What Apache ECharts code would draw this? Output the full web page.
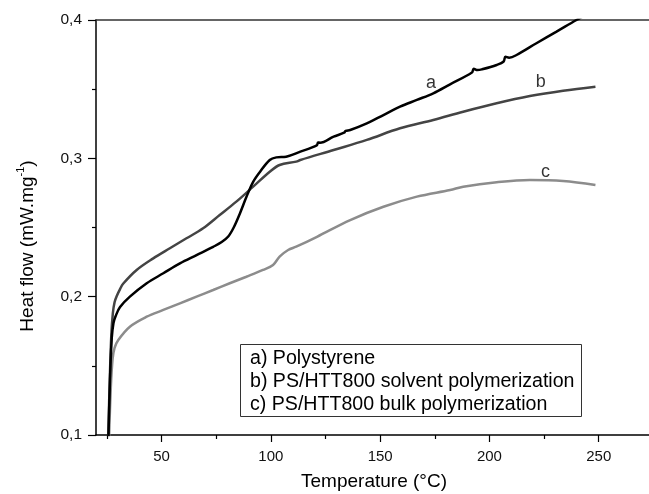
<!DOCTYPE html>
<html>
<head>
<meta charset="utf-8">
<script src="https://cdn.jsdelivr.net/npm/echarts@6/dist/echarts.min.js"></script>
<style>
  html, body { margin: 0; padding: 0; background: #fff; }
  #chart { width: 649px; height: 494px; }
</style>
</head>
<body>
<div id="chart"></div>
<script>
// ---- data ----
const seriesNames = ['a', 'b', 'c'];
const legendLabels = [
  'a) Polystyrene',
  'b) PS/HTT800 solvent polymerization',
  'c) PS/HTT800 bulk polymerization'
];

const tempA = [25.7, 26.4, 27.2, 28.0, 29.0, 31.0, 35.5, 43.2, 50.8, 58.4, 66.0, 73.6, 77.5, 80.5, 83.0, 85.8, 88.8, 91.9, 94.9, 99.5, 102.5, 107.0, 113.5, 121.0, 121.6, 122.5, 128.7, 133.5, 134.2, 136.3, 143.9, 151.5, 159.1, 166.8, 174.3, 182.0, 192.0, 192.8, 194.5, 196.5, 203.3, 206.5, 207.3, 209.0, 212.4, 221.5, 230.7, 239.8, 245.0];
const flowA = [0.099, 0.140, 0.170, 0.181, 0.186, 0.1925, 0.200, 0.2097, 0.2169, 0.224, 0.230, 0.236, 0.2395, 0.2435, 0.2500, 0.260, 0.272, 0.283, 0.290, 0.2988, 0.3007, 0.3012, 0.3048, 0.3093, 0.3115, 0.3113, 0.3157, 0.3185, 0.3198, 0.3205, 0.3253, 0.3313, 0.3373, 0.3422, 0.347, 0.3535, 0.3620, 0.3648, 0.3638, 0.3643, 0.3675, 0.3700, 0.3735, 0.3728, 0.3747, 0.3832, 0.3916, 0.4000, 0.4045];

const tempB = [25.6, 26.3, 27.0, 27.7, 28.5, 29.5, 31.0, 32.5, 38.6, 46.2, 53.8, 61.4, 69.0, 76.6, 84.2, 91.9, 99.5, 104.0, 111.6, 113.5, 128.7, 143.9, 159.1, 174.3, 188.0, 203.3, 218.5, 233.7, 248.5];
const flowB = [0.099, 0.140, 0.172, 0.188, 0.196, 0.2005, 0.2055, 0.2095, 0.2193, 0.2277, 0.235, 0.2422, 0.2494, 0.259, 0.2687, 0.2795, 0.2903, 0.2952, 0.2976, 0.2988, 0.306, 0.3133, 0.3217, 0.3277, 0.3337, 0.3398, 0.345, 0.3489, 0.3518];

const tempC = [26.0, 26.8, 27.6, 28.5, 30.2, 35.5, 43.2, 50.8, 58.4, 66.0, 73.6, 81.2, 88.8, 96.4, 101.0, 104.0, 107.9, 111.6, 121.1, 136.3, 151.5, 166.8, 182.0, 188.0, 203.3, 218.5, 233.7, 248.5];
const flowC = [0.099, 0.135, 0.155, 0.163, 0.1687, 0.1783, 0.1855, 0.1904, 0.1952, 0.200, 0.2048, 0.2097, 0.2144, 0.2193, 0.2229, 0.2289, 0.2337, 0.2361, 0.2433, 0.2554, 0.265, 0.2723, 0.2771, 0.2795, 0.2827, 0.2843, 0.2836, 0.2807];

// curve tag positions (data coordinates)
const tagTemp = [173.3, 223.5, 225.7];
const tagFlow = [0.3542, 0.3552, 0.2903];

const xMajorTicks = [50, 100, 150, 200, 250];
const xMinorTicks = [25, 75, 125, 175, 225, 275];

// ---- chart ----
const FONT = 'Liberation Sans, Arial, Helvetica, sans-serif';
const colors = ['#000000', '#444444', '#8c8c8c'];
const zip = (xs, ys) => xs.map((x, i) => [x, ys[i]]);
const temps = [tempA, tempB, tempC];
const flows = [flowA, flowB, flowC];

const chart = echarts.init(document.getElementById('chart'), null, { renderer: 'canvas' });

const X_MIN = 20, X_MAX = 273;
const axisCommon = { min: X_MIN, max: X_MAX, type: 'value', splitLine: { show: false } };

const series = seriesNames.map((n, i) => ({
  name: n,
  type: 'line',
  data: zip(temps[i], flows[i]),
  showSymbol: false,
  smooth: 0.35,
  clip: true,
  lineStyle: { color: colors[i], width: 2.5 },
  z: 5 - i
}));

series.push({
  type: 'scatter',
  symbolSize: 0,
  data: seriesNames.map((n, i) => ({ value: [tagTemp[i], tagFlow[i]], name: n })),
  label: {
    show: true, position: 'inside',
    formatter: p => p.name,
    fontFamily: FONT, fontSize: 18, color: '#000'
  },
  silent: true,
  z: 10
});

const legendGraphics = [
  {
    type: 'rect',
    shape: { x: 240.5, y: 344.5, width: 341, height: 72 },
    style: { fill: '#fff', stroke: '#333', lineWidth: 1 },
    z: 100
  }
].concat(legendLabels.map((t, i) => ({
  type: 'text',
  x: 250, y: 359 + i * 23,
  style: { text: t, font: '19.6px ' + FONT, fill: '#000', align: 'left', verticalAlign: 'middle' },
  z: 101
})));

chart.setOption({
  animation: false,
  backgroundColor: '#fff',
  grid: { left: 96, right: 0, top: 20, bottom: 59, containLabel: false },
  xAxis: [
    Object.assign({}, axisCommon, {
      position: 'bottom',
      axisLine: { show: true, lineStyle: { color: '#000', width: 1.5 } },
      axisTick: { show: true, length: 7, customValues: xMajorTicks, lineStyle: { color: '#000', width: 1.2 } },
      axisLabel: { show: true, customValues: xMajorTicks, margin: 14, fontFamily: FONT, fontSize: 15, color: '#111' }
    }),
    Object.assign({}, axisCommon, {
      position: 'bottom',
      axisLine: { show: false },
      axisTick: { show: true, length: 4, customValues: xMinorTicks, lineStyle: { color: '#000', width: 1.2 } },
      axisLabel: { show: false }
    }),
    Object.assign({}, axisCommon, {
      position: 'top',
      axisLine: { show: true, lineStyle: { color: '#333', width: 1.5 } },
      axisTick: { show: false },
      axisLabel: { show: false }
    })
  ],
  yAxis: {
    type: 'value',
    min: 0.1, max: 0.4, interval: 0.1,
    splitLine: { show: false },
    axisLine: { show: true, lineStyle: { color: '#000', width: 1.5 } },
    axisTick: { show: true, length: 8, lineStyle: { color: '#000', width: 1.2 } },
    minorTick: { show: true, splitNumber: 2, length: 4, lineStyle: { color: '#000', width: 1.2 } },
    axisLabel: {
      margin: 14, fontFamily: FONT, fontSize: 15.5, color: '#111',
      formatter: v => v.toFixed(1).replace('.', ',')
    }
  },
  series: series,
  graphic: legendGraphics.concat([
    {
      type: 'text',
      x: 374, y: 482,
      style: { text: 'Temperature (°C)', font: '19px ' + FONT, fill: '#000', align: 'center', verticalAlign: 'middle' }
    },
    {
      type: 'text',
      x: 26, y: 246,
      rotation: Math.PI / 2,
      style: {
        text: '{n|Heat flow (mW.mg}{s|-1}{n|)}',
        align: 'center', verticalAlign: 'middle',
        rich: {
          n: { fontFamily: FONT, fontSize: 19, fill: '#000', color: '#000', lineHeight: 22, verticalAlign: 'bottom' },
          s: { fontFamily: FONT, fontSize: 11, fill: '#000', color: '#000', lineHeight: 22, verticalAlign: 'top' }
        }
      }
    }
  ])
});
</script>
</body>
</html>
